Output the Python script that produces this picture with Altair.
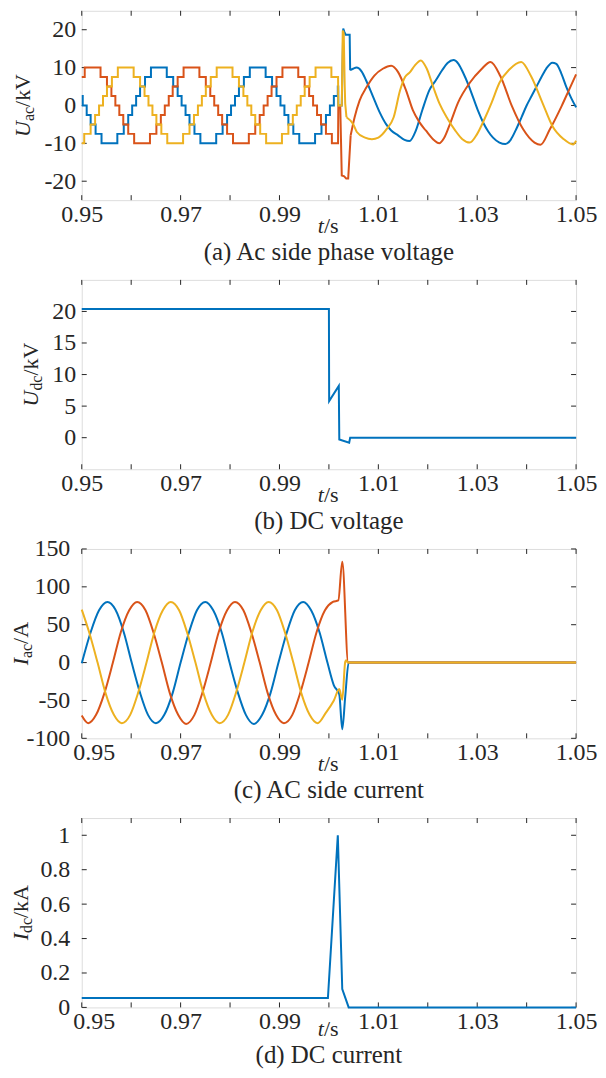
import altair as alt
import pandas as pd

FONT = "Liberation Serif, Times New Roman, Times, serif"
INK = "#262626"
BLUE, RED, YELLOW = "#0072BD", "#D95319", "#EDB120"
W, H = 496, 190
GAP = 80

# ---------------- axis values ----------------
X_TICKS = [0.95, 0.96, 0.97, 0.98, 0.99, 1.00, 1.01, 1.02, 1.03, 1.04, 1.05]
X_LABELS = [0.95, 0.97, 0.99, 1.01, 1.03, 1.05]
UAC_TICKS = [-20, -10, 0, 10, 20]
UDC_TICKS = [0, 5, 10, 15, 20]
IAC_TICKS = [-100, -50, 0, 50, 100, 150]
IDC_TICKS = [0, 0.2, 0.4, 0.6, 0.8, 1.0]

# ---------------- (a) AC phase voltage, kV ----------------
# staircase: time of each level change and the level that follows
UA_BLUE_STEP_T = [0.9500, 0.9502, 0.9510, 0.9518, 0.9528, 0.9540, 0.9572, 0.9585, 0.9594, 0.9602, 0.9610,
                  0.9618, 0.9628, 0.9640, 0.9672, 0.9685, 0.9694, 0.9702, 0.9710, 0.9718, 0.9728, 0.9740,
                  0.9772, 0.9785, 0.9794, 0.9802, 0.9810, 0.9818, 0.9828, 0.9840, 0.9872, 0.9885, 0.9894,
                  0.9902, 0.9910, 0.9918, 0.9928, 0.9940, 0.9972, 0.9985, 0.9994, 1.0002, 1.0010, 1.0018]
UA_BLUE_STEP_V = [2.5, 0, -2.5, -5, -7.5, -10, -7.5, -5, -2.5, 0, 2.5, 5, 7.5, 10, 7.5, 5, 2.5, 0, -2.5, -5,
                  -7.5, -10, -7.5, -5, -2.5, 0, 2.5, 5, 7.5, 10, 7.5, 5, 2.5, 0, -2.5, -5, -7.5, -10, -7.5,
                  -5, -2.5, 0, 2.5, 5]
UA_BLUE_FAULT_T = [1.00188, 1.0019, 1.0026, 1.0029, 1.0031, 1.0034, 1.0042, 1.0043]
UA_BLUE_FAULT_V = [5.0, 0.0, 0.0, 20.3, 19.5, 18.7, 18.7, 9.3]
UA_BLUE_POST_T = [1.0043, 1.0049, 1.0056, 1.0066, 1.0076, 1.0089, 1.0103, 1.0116, 1.0126, 1.0140, 1.0153,
                  1.0163, 1.0176, 1.0189, 1.0203, 1.0216, 1.0229, 1.0240, 1.0252, 1.0262, 1.0272, 1.0282,
                  1.0292, 1.0302, 1.0312, 1.0322, 1.0332, 1.0345, 1.0357, 1.0368, 1.0378, 1.0390, 1.0400,
                  1.0410, 1.0420, 1.0430, 1.0440, 1.0452, 1.0460, 1.0470, 1.0480, 1.0490, 1.0500]
UA_BLUE_POST_V = [9.3, 9.7, 10.0, 9.0, 6.4, 2.4, -1.9, -5.0, -6.6, -7.9, -9.1, -9.4, -6.6, -1.2, 4.0, 6.6,
                  9.3, 11.2, 12.0, 11.0, 8.5, 5.5, 2.0, -1.5, -4.5, -6.8, -8.5, -9.8, -10.2, -9.0, -6.5,
                  -3.0, 0.0, 2.5, 5.0, 7.5, 9.8, 11.3, 11.0, 8.5, 5.0, 2.0, -0.5]

UA_RED_STEP_T = [0.9500, 0.9506, 0.9538, 0.9551, 0.9560, 0.9568, 0.9576, 0.9584, 0.9594, 0.9606, 0.9638,
                 0.9651, 0.9660, 0.9668, 0.9676, 0.9684, 0.9694, 0.9706, 0.9738, 0.9751, 0.9760, 0.9768,
                 0.9776, 0.9784, 0.9794, 0.9806, 0.9838, 0.9851, 0.9860, 0.9868, 0.9876, 0.9884, 0.9894,
                 0.9906, 0.9938, 0.9951, 0.9960, 0.9968, 0.9976, 0.9984, 0.9994, 1.0006]
UA_RED_STEP_V = [7.5, 10, 7.5, 5, 2.5, 0, -2.5, -5, -7.5, -10, -7.5, -5, -2.5, 0, 2.5, 5, 7.5, 10, 7.5, 5,
                 2.5, 0, -2.5, -5, -7.5, -10, -7.5, -5, -2.5, 0, 2.5, 5, 7.5, 10, 7.5, 5, 2.5, 0, -2.5, -5,
                 -7.5, -10]
UA_RED_FAULT_T = [1.00185, 1.0019, 1.0023, 1.0026, 1.0031, 1.0035, 1.0039, 1.0044]
UA_RED_FAULT_V = [-10.0, -0.5, -0.5, -18.5, -18.7, -19.3, -19.3, -7.9]
UA_RED_POST_T = [1.0044, 1.0052, 1.0062, 1.0076, 1.0092, 1.0109, 1.0126, 1.0140, 1.0156, 1.0170, 1.0183,
                 1.0196, 1.0213, 1.0223, 1.0233, 1.0246, 1.0261, 1.0285, 1.0308, 1.0327, 1.0347, 1.0370,
                 1.0393, 1.0416, 1.0428, 1.0447, 1.0471, 1.0486, 1.0500]
UA_RED_POST_V = [-7.9, -3.1, 1.3, 4.8, 7.9, 9.7, 10.5, 8.8, 4.0, -1.3, -4.4, -6.6, -9.2, -10.0, -8.6, -4.5,
                 0.7, 6.0, 9.5, 11.5, 7.7, -0.1, -6.3, -9.8, -10.4, -6.3, -0.1, 4.2, 8.2]

UA_YEL_STEP_T = [0.9500, 0.9505, 0.9518, 0.9527, 0.9535, 0.9543, 0.9551, 0.9561, 0.9573, 0.9605, 0.9618,
                 0.9627, 0.9635, 0.9643, 0.9651, 0.9661, 0.9673, 0.9705, 0.9718, 0.9727, 0.9735, 0.9743,
                 0.9751, 0.9761, 0.9773, 0.9805, 0.9818, 0.9827, 0.9835, 0.9843, 0.9851, 0.9861, 0.9873,
                 0.9905, 0.9918, 0.9927, 0.9935, 0.9943, 0.9951, 0.9961, 0.9973, 1.0005]
UA_YEL_STEP_V = [-10, -7.5, -5, -2.5, 0, 2.5, 5, 7.5, 10, 7.5, 5, 2.5, 0, -2.5, -5, -7.5, -10, -7.5, -5,
                 -2.5, 0, 2.5, 5, 7.5, 10, 7.5, 5, 2.5, 0, -2.5, -5, -7.5, -10, -7.5, -5, -2.5, 0, 2.5, 5,
                 7.5, 10, 7.5]
UA_YEL_FAULT_T = [1.00185, 1.0019, 1.0026, 1.0028, 1.0030, 1.0032, 1.0033, 1.00355]
UA_YEL_FAULT_V = [7.5, 0.0, 0.0, 19.8, 19.0, 5.0, 0.5, -3.1]
UA_YEL_POST_T = [1.00355, 1.0049, 1.00565, 1.0073, 1.0087, 1.0100, 1.0117, 1.0131, 1.0144, 1.0154, 1.0164,
                 1.0174, 1.0186, 1.0198, 1.0211, 1.0224, 1.0240, 1.0255, 1.0270, 1.0285, 1.0300, 1.0315,
                 1.0329, 1.0345, 1.0365, 1.0389, 1.0409, 1.0432, 1.0452, 1.0475, 1.0494, 1.0500]
UA_YEL_POST_V = [-3.1, -4.9, -7.0, -8.5, -8.9, -8.5, -6.2, -3.1, 4.0, 7.5, 8.8, 10.6, 11.9, 9.7, 4.9, 0.4,
                 -3.5, -6.5, -8.9, -9.8, -7.5, -3.5, 0.7, 6.0, 9.5, 11.5, 7.7, 0.7, -5.4, -8.9, -10.3, -9.3]

# ---------------- (b) DC voltage, kV ----------------
UDC_T = [0.9500, 1.0000, 1.00005, 1.0020, 1.0021, 1.0041, 1.0043, 1.0500]
UDC_V = [20.4, 20.4, 5.8, 8.2, -0.3, -0.8, 0.0, 0.0]

# ---------------- (c) AC side current, A ----------------
IA_BLUE_T = [0.9500, 0.9518, 0.9535, 0.9552, 0.9568, 0.9585, 0.9601, 0.9618, 0.9634, 0.9650, 0.9667, 0.9684,
             0.9700, 0.9717, 0.9733, 0.9750, 0.9766, 0.9783, 0.9799, 0.9816, 0.9832, 0.9848, 0.9865, 0.9882,
             0.9898, 0.9915, 0.9931, 0.9948, 0.9964, 0.9981, 0.9997, 1.0010, 1.0021, 1.0027, 1.0033, 1.0040,
             1.0500]
IA_BLUE_V = [-1, 40, 69, 80, 70, 40, 0, -40, -69, -80, -69, -40, 0, 40, 69, 80, 69, 40, 0, -40, -69, -81,
             -69, -40, 0, 40, 69, 80, 69, 40, 0, -30, -42, -88, -45, 0, 0]
IA_RED_T = [0.9500, 0.9513, 0.9529, 0.9546, 0.9563, 0.9579, 0.9596, 0.9612, 0.9629, 0.9645, 0.9662, 0.9678,
            0.9695, 0.9711, 0.9728, 0.9744, 0.9761, 0.9777, 0.9794, 0.9810, 0.9827, 0.9843, 0.9860, 0.9876,
            0.9893, 0.9909, 0.9926, 0.9942, 0.9959, 0.9975, 0.9992, 1.0008, 1.0019, 1.0027, 1.0039, 1.0500]
IA_RED_V = [-70, -80, -69, -40, 0, 40, 69, 80, 69, 40, 0, -40, -69, -81, -69, -40, 0, 40, 69, 80, 69, 40, 0,
            -40, -69, -80, -69, -40, 0, 40, 69, 80, 82, 133, 0, 0]
IA_YEL_T = [0.9500, 0.9515, 0.9532, 0.9548, 0.9565, 0.9581, 0.9598, 0.9614, 0.9631, 0.9647, 0.9664, 0.9680,
            0.9697, 0.9713, 0.9730, 0.9746, 0.9763, 0.9779, 0.9796, 0.9812, 0.9829, 0.9845, 0.9862, 0.9878,
            0.9895, 0.9911, 0.9928, 0.9944, 0.9961, 0.9977, 0.9994, 1.0010, 1.0021, 1.0027, 1.0033, 1.0035,
            1.0038, 1.0500]
IA_YEL_V = [70, 40, 0, -40, -69, -80, -69, -40, 0, 40, 69, 80, 69, 40, 0, -40, -69, -80, -69, -40, 0, 40, 69,
            80, 69, 40, 0, -40, -69, -80, -66, -50, -35, -49, 1, 3, 0, 0]

# ---------------- (d) DC current, kA ----------------
IDC_T = [0.9500, 0.9998, 1.0018, 1.0027, 1.0040, 1.0500]
IDC_V = [0.054, 0.054, 1.0, 0.106, 0.0, 0.0]


# ---------------- helpers ----------------
def frame(ts, vs):
    return pd.DataFrame({"t": ts, "v": vs, "i": list(range(len(ts)))})


def stairs(step_t, step_v, tail_t, tail_v):
    ts, vs = [step_t[0]], [step_v[0]]
    for k in range(1, len(step_t)):
        ts += [step_t[k], step_t[k]]
        vs += [step_v[k - 1], step_v[k]]
    return frame(ts + tail_t, vs + tail_v)


def x_enc(shift_first=False):
    kw = dict(values=X_LABELS, format=".2f", ticks=False, tickSize=0, domain=False, grid=False,
              labelFont=FONT, labelFontSize=24, labelColor=INK, labelBaseline="alphabetic",
              labelPadding=21, labelFlush=False, labelOverlap=False, title=None)
    if shift_first:
        kw["labelOffset"] = {"condition": {"test": "datum.value < 0.955", "value": 12}, "value": 0}
    return alt.X("t:Q", scale=alt.Scale(domain=[0.95, 1.05], nice=False, zero=False), axis=alt.Axis(**kw))


def y_enc(domain, ticks, expr, pad):
    return alt.Y("v:Q", scale=alt.Scale(domain=domain, nice=False, zero=False),
                 axis=alt.Axis(values=ticks, labelExpr=expr, ticks=False, tickSize=0, domain=False,
                               grid=False, labelFont=FONT, labelFontSize=24, labelColor=INK,
                               labelPadding=pad, title=None))


def line(df, color, xe, ye, interp="linear"):
    return alt.Chart(df).mark_line(color=color, strokeWidth=2, interpolate=interp).encode(
        x=xe, y=ye, order="i:Q")


def box_ticks(xe, ye, yticks):
    dx = pd.DataFrame({"t": X_TICKS})
    dy = pd.DataFrame({"v": yticks})
    st = dict(color=INK, strokeWidth=1)
    return [
        alt.Chart(dx).mark_rule(**st).encode(x=xe, y=alt.value(H), y2=alt.value(H - 5)),
        alt.Chart(dx).mark_rule(**st).encode(x=xe, y=alt.value(0), y2=alt.value(5)),
        alt.Chart(dy).mark_rule(**st).encode(y=ye, x=alt.value(0), x2=alt.value(5)),
        alt.Chart(dy).mark_rule(**st).encode(y=ye, x=alt.value(W), x2=alt.value(W - 5)),
    ]


ONE = pd.DataFrame({"k": [0]})


def text(s, x, y, size=24, style="normal", align="left", angle=0):
    return alt.Chart(ONE).mark_text(text=s, font=FONT, fontSize=size, fontStyle=style, align=align,
                                    baseline="alphabetic", angle=angle, color=INK).encode(
        x=alt.value(x), y=alt.value(y))


def y_title(main, sub, unit, wm, ws, wu, xb, yc):
    y0 = yc + (wm + ws + wu) / 2
    return [text(main, xb, y0, 22, "italic", "left", 270),
            text(sub, xb + 4, y0 - wm, 16, "normal", "left", 270),
            text(unit, xb, y0 - wm - ws, 22, "normal", "left", 270)]


def x_title_and_caption(caption, ts_off, cap_off):
    return [text("t", 243, H + ts_off, 22, "italic", "right"),
            text("/s", 243, H + ts_off, 22, "normal", "left"),
            text(caption, W / 2, H + cap_off, 25, "normal", "center")]


MINUS = "replace(datum.label, '\u2212', '-')"

# ---------------- panel (a) ----------------
xa = x_enc()
ya = y_enc([-25, 25], UAC_TICKS, MINUS, 6)
pa_layers = box_ticks(xa, ya, UAC_TICKS) + [
    line(stairs(UA_BLUE_STEP_T, UA_BLUE_STEP_V, UA_BLUE_FAULT_T, UA_BLUE_FAULT_V), BLUE, xa, ya),
    line(frame(UA_BLUE_POST_T, UA_BLUE_POST_V), BLUE, xa, ya, "monotone"),
    line(stairs(UA_RED_STEP_T, UA_RED_STEP_V, UA_RED_FAULT_T, UA_RED_FAULT_V), RED, xa, ya),
    line(frame(UA_RED_POST_T, UA_RED_POST_V), RED, xa, ya, "monotone"),
    line(stairs(UA_YEL_STEP_T, UA_YEL_STEP_V, UA_YEL_FAULT_T, UA_YEL_FAULT_V), YELLOW, xa, ya),
    line(frame(UA_YEL_POST_T, UA_YEL_POST_V), YELLOW, xa, ya, "monotone"),
] + y_title("U", "ac", "/kV", 15.9, 14.2, 33, -52, H / 2) + \
    x_title_and_caption("(a) Ac side phase voltage", 32.5, 60) + [
    alt.Chart(ONE).mark_rule(strokeOpacity=0).encode(x=alt.value(-73), y=alt.value(10), y2=alt.value(20))
]
pa = alt.layer(*pa_layers).properties(width=W, height=H)

# ---------------- panel (b) ----------------
xb = x_enc()
yb = y_enc([-5, 25], UDC_TICKS, MINUS, 6)
pb_layers = box_ticks(xb, yb, UDC_TICKS) + [
    line(frame(UDC_T, UDC_V), BLUE, xb, yb),
] + y_title("U", "dc", "/kV", 15.9, 15.1, 33, -44, H / 2) + x_title_and_caption("(b) DC voltage", 32.5, 60)
pb = alt.layer(*pb_layers).properties(width=W, height=H)

# ---------------- panel (c) ----------------
xc = x_enc(True)
yc = y_enc([-100, 150], IAC_TICKS, MINUS, 12)
pc_layers = box_ticks(xc, yc, IAC_TICKS) + [
    line(frame(IA_BLUE_T, IA_BLUE_V), BLUE, xc, yc, "monotone"),
    line(frame(IA_RED_T, IA_RED_V), RED, xc, yc, "monotone"),
    line(frame(IA_YEL_T, IA_YEL_V), YELLOW, xc, yc, "monotone"),
] + y_title("I", "ac", "/A", 7.3, 14.2, 22, -54, H / 2) + x_title_and_caption("(c) AC side current", 32.5, 60)
pc = alt.layer(*pc_layers).properties(width=W, height=H)

# ---------------- panel (d) ----------------
xd = x_enc(True)
yd = y_enc([0, 1.1], IDC_TICKS, "format(datum.value, '~g')", 12)
pd_layers = box_ticks(xd, yd, IDC_TICKS) + [
    line(frame(IDC_T, IDC_V), BLUE, xd, yd),
] + y_title("I", "dc", "/kA", 7.3, 15.1, 33, -54, H / 2) + x_title_and_caption("(d) DC current", 28.5, 56)
pdd = alt.layer(*pd_layers).properties(width=W, height=H)

chart = alt.vconcat(pa, pb, pc, pdd, spacing=GAP, bounds="flush").properties(
    padding={"left": 0, "top": 0, "right": 0, "bottom": 0}
).configure_view(stroke=INK, strokeWidth=1).configure(background="white")

chart.save("out.html", embed_options={"renderer": "svg", "actions": False})
